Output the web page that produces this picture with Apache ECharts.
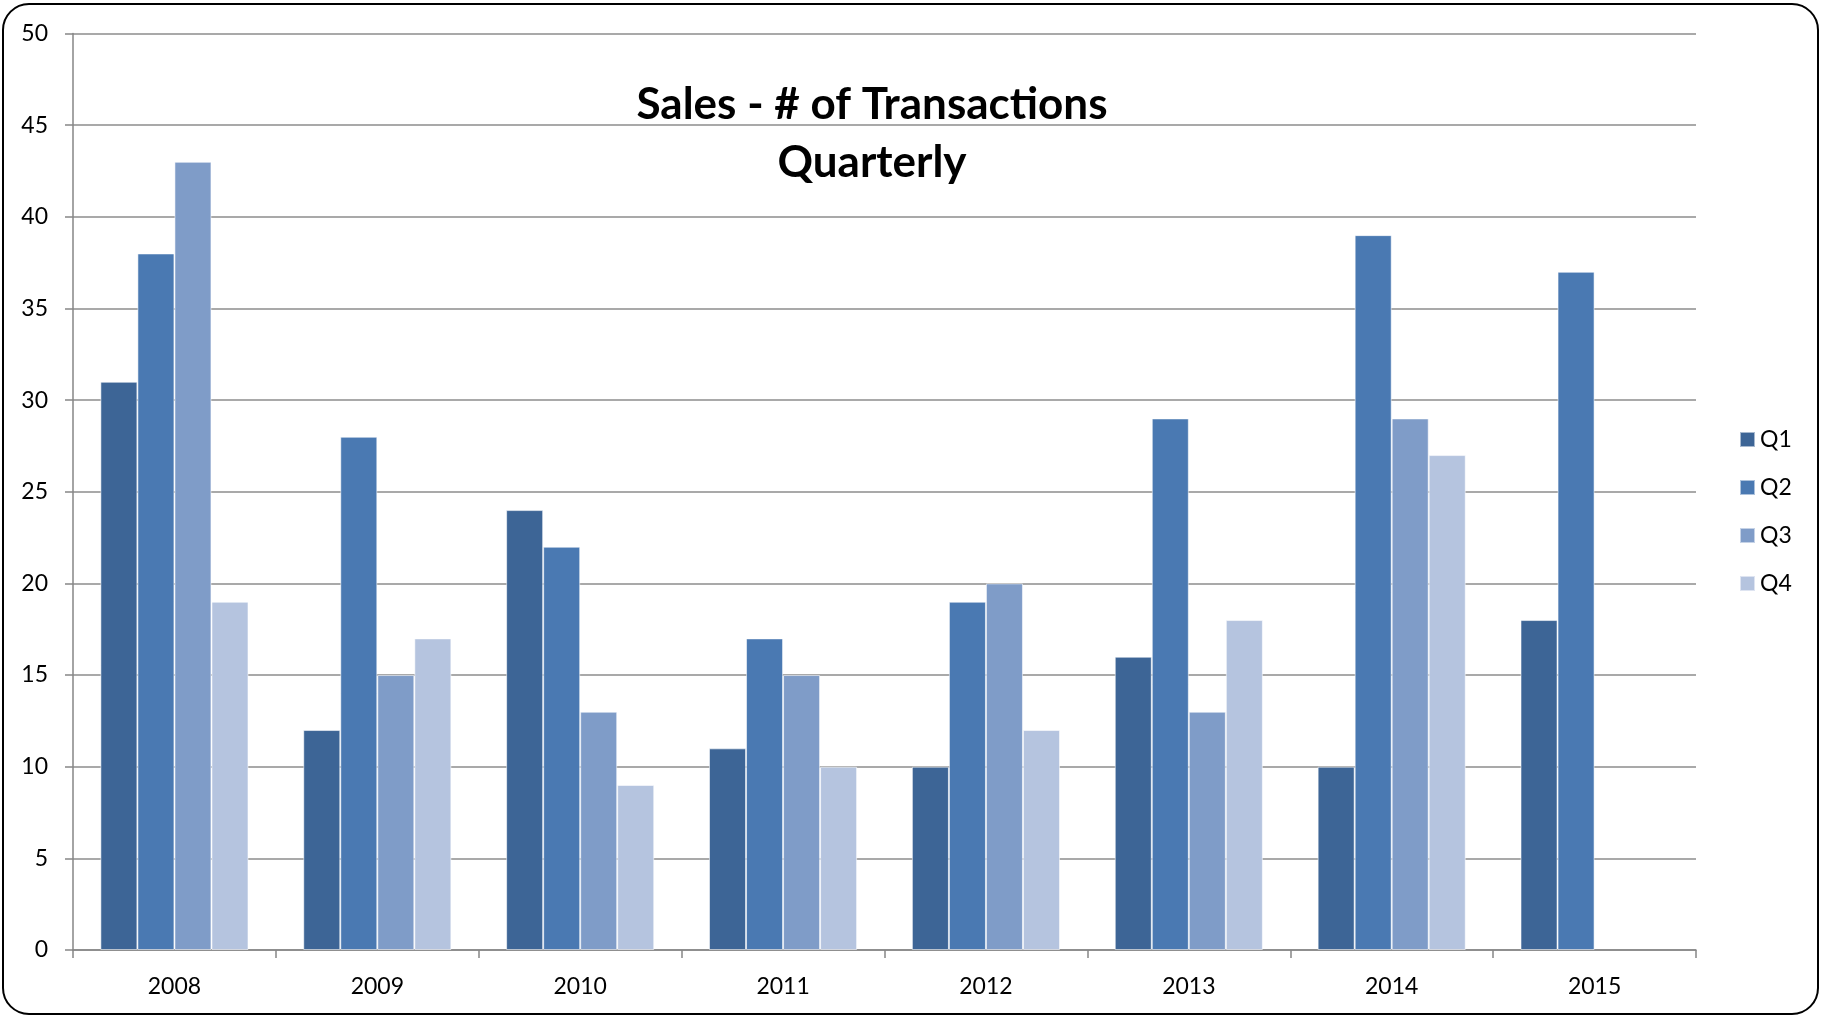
<!DOCTYPE html>
<html>
<head>
<meta charset="utf-8">
<title>Sales - # of Transactions</title>
<script src="https://cdn.jsdelivr.net/npm/echarts@6/dist/echarts.min.js"></script>
<style>
  html, body { margin: 0; padding: 0; background: #fff; }
  #chart { width: 1823px; height: 1016px; }
</style>
</head>
<body>
<div id="chart"></div>
<script>
// years on the x axis
const years = ['2008', '2009', '2010', '2011', '2012', '2013', '2014', '2015'];
// quarterly transaction counts (2015 has only Q1 and Q2)
const q1 = [31, 12, 24, 11, 10, 16, 10, 18];
const q2 = [38, 28, 22, 17, 19, 29, 39, 37];
const q3 = [43, 15, 13, 15, 20, 13, 29, null];
const q4 = [19, 17, 9, 10, 12, 18, 27, null];
const seriesNames = ['Q1', 'Q2', 'Q3', 'Q4'];

const font = 'Lato, "Open Sans", sans-serif';

let chart = echarts.init(document.getElementById('chart'));

function barSeries(name, data) {
  return {
    name: name,
    type: 'bar',
    data: data,
    barGap: '0%',
    barCategoryGap: '27%',
    itemStyle: {
      borderColor: 'rgba(255,255,255,0.55)',
      borderWidth: 1
    }
  };
}

chart.setOption({
  animation: false,
  color: ['#3D6596', '#4A79B2', '#7F9CC8', '#B5C4DF'],
  title: {
    text: 'Sales - # of Transactions\nQuarterly',
    left: 872,
    textAlign: 'center',
    top: 76,
    padding: 0,
    textStyle: {
      fontFamily: font,
      fontWeight: 'bold',
      fontSize: 44,
      lineHeight: 58,
      color: '#000'
    }
  },
  // rounded frame around the whole chart
  graphic: [{
    type: 'rect',
    shape: { x: 3, y: 4, width: 1815, height: 1010, r: 26 },
    style: { fill: 'none', stroke: '#000', lineWidth: 2 },
    silent: true,
    z: -1
  }],
  legend: {
    orient: 'vertical',
    left: 1739,
    top: 428,
    padding: 0,
    itemWidth: 15,
    itemHeight: 15,
    itemGap: 25,
    icon: 'rect',
    data: seriesNames,
    textStyle: { fontFamily: font, fontSize: 23, lineHeight: 20, color: '#000' }
  },
  grid: {
    left: 73,
    right: 127,
    top: 33.5,
    bottom: 66,
    containLabel: false
  },
  xAxis: {
    type: 'category',
    data: years,
    axisLine: { lineStyle: { color: '#868686', width: 1.5 } },
    axisTick: { show: true, length: 8, alignWithLabel: false, lineStyle: { color: '#868686', width: 1.5 } },
    axisLabel: { fontFamily: font, fontSize: 23, color: '#000', margin: 25 }
  },
  yAxis: {
    type: 'value',
    min: 0,
    max: 50,
    interval: 5,
    axisLine: { show: true, lineStyle: { color: '#868686', width: 1.5 } },
    axisTick: { show: true, length: 8, inside: false, lineStyle: { color: '#868686', width: 1.5 } },
    axisLabel: { fontFamily: font, fontSize: 23, color: '#000', margin: 25 },
    splitLine: { lineStyle: { color: '#8c8c8c', width: 1.5 } }
  },
  series: [
    barSeries('Q1', q1),
    barSeries('Q2', q2),
    barSeries('Q3', q3),
    barSeries('Q4', q4)
  ]
});
</script>
</body>
</html>
